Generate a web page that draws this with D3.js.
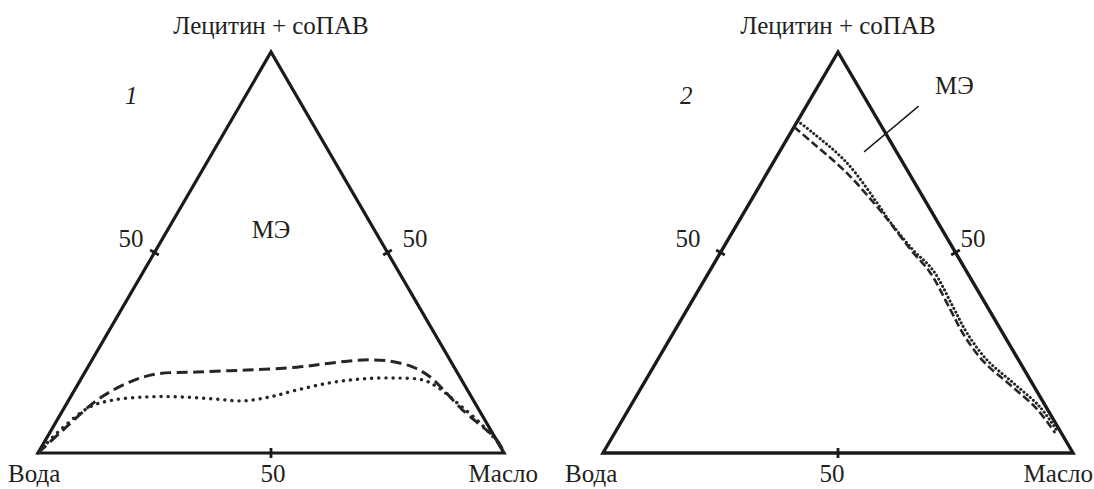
<!DOCTYPE html>
<html>
<head>
<meta charset="utf-8">
<script src="https://cdn.jsdelivr.net/npm/d3@7"></script>
<style>
  html, body { margin: 0; padding: 0; background: #fff; }
  .lbl { font-family: 'Liberation Serif', LiberationSerif, Tinos, 'Times New Roman', Times, 'Nimbus Roman', 'Nimbus Roman No9 L', FreeSerif, 'DejaVu Serif', serif; }
</style>
</head>
<body>
<svg id="chart" width="1094" height="489"></svg>
<script>
// compositions as [Лецитин + соПАВ %, Масло %]; вода = 100 - both
const vertexLabels = ['Вода', 'Масло', 'Лецитин + соПАВ'];
const tickLabel = '50';
const panelNames = ['1', '2'];

const dashed1 = [[0,0],[5.7,2.5],[13.2,6.1],[17.7,10.8],[19.7,15.6],[20.2,24.0],[20.7,34.5],
  [21.4,44.9],[22.4,51.5],[23.2,58.1],[22.9,64.1],[21.4,69.8],[19.0,74.6],[10.7,85.8],[3.2,96.9],[0,100]];
const dotted1 = [[0,0],[5.0,1.6],[11.5,5.4],[13.2,9.5],[14.0,16.4],[14.0,23.5],[13.5,30.8],[13.0,37.5],
  [14.0,42.8],[15.7,47.7],[17.5,53.9],[18.5,60.5],[18.7,67.7],[18.2,73.5],[16.5,77.4],[12.5,83.7],
  [7.5,91.1],[2.0,98.1],[0,100]];
const dotted2 = [[82.8,0],[79.8,4.8],[72.3,15.8],[61.3,28.3],[57.6,32.3],[50.6,40.7],[45.6,47.4],
  [36.4,56.3],[29.9,62.5],[23.2,70.1],[17.5,78.5],[11.5,87.2],[5.2,94.2]];
const dashed2 = [[81.3,0],[77.3,6.0],[69.8,17.0],[60.6,28.6],[57.4,32.4],[50.3,40.6],[45.1,47.0],
  [35.9,55.9],[29.4,62.1],[22.7,69.7],[17.0,78.1],[11.0,86.8],[5.0,93.7]];
const meLeader2 = [[86.5,23.9],[75.1,18.0]];

const panels = [
  { name: panelNames[0], left: 38, right: 504, top: 52, base: 453, width: 3.2,
    curves: [{ pts: dashed1, dash: '11,5.5', w: 3, cap: 'butt' }, { pts: dotted1, dash: '0.1,7', w: 3.4, cap: 'round' }],
    nameAt: [125, 104], me: { x: 271, y: 238, anchor: 'middle' }, leader: null,
    fifty: { lx: -11, rx: 15 }, bottomLab: { w: 8, mid: 2, m: 538 } },
  { name: panelNames[1], left: 603, right: 1073, top: 52, base: 453, width: 3.4,
    curves: [{ pts: dashed2, dash: '8,3.5', w: 2.6, cap: 'butt' }, { pts: dotted2, dash: '0.1,4', w: 3, cap: 'round' }],
    nameAt: [680, 104], me: { x: 935, y: 94, anchor: 'start' }, leader: meLeader2,
    fifty: { lx: -20, rx: 5 }, bottomLab: { w: 565, mid: -6, m: 1093 } }
];

const svg = d3.select('#chart');
const fs = 25;

panels.forEach(p => {
  const g = svg.append('g');
  // ternary -> x uses (oil + surf/2), y uses surf
  const x = d3.scaleLinear().domain([0, 100]).range([p.left, p.right]);
  const y = d3.scaleLinear().domain([0, 100]).range([p.base, p.top]);
  const pos = d => [x(d[1] + d[0] / 2), y(d[0])];

  const W = pos([0, 0]), O = pos([0, 100]), S = pos([100, 0]);

  g.append('path')
    .attr('d', d3.line()([W, O, S]) + 'Z')
    .attr('fill', 'none')
    .attr('stroke', '#1a1a1a')
    .attr('stroke-width', p.width)
    .attr('stroke-linejoin', 'miter');

  // 50% ticks at side midpoints
  const mids = [
    { pt: pos([0, 50]), dir: [0, 1] },
    { pt: pos([50, 0]), dir: [S[1] - W[1], -(S[0] - W[0])] },
    { pt: pos([50, 50]), dir: [O[1] - S[1], -(O[0] - S[0])] }
  ];
  mids.forEach(m => {
    const len = Math.hypot(m.dir[0], m.dir[1]);
    const ux = m.dir[0] / len, uy = m.dir[1] / len;
    g.append('line')
      .attr('x1', m.pt[0] - ux * 5).attr('y1', m.pt[1] - uy * 5)
      .attr('x2', m.pt[0] + ux * 5).attr('y2', m.pt[1] + uy * 5)
      .attr('stroke', '#1a1a1a').attr('stroke-width', 2.8);
  });

  const line = d3.line().curve(d3.curveCatmullRom.alpha(0.5)).x(d => pos(d)[0]).y(d => pos(d)[1]);
  p.curves.forEach(c => {
    g.append('path')
      .attr('d', line(c.pts))
      .attr('fill', 'none')
      .attr('stroke', '#262626')
      .attr('stroke-width', c.w)
      .attr('stroke-linecap', c.cap)
      .attr('stroke-dasharray', c.dash);
  });

  if (p.leader) {
    g.append('line')
      .attr('x1', pos(p.leader[0])[0]).attr('y1', pos(p.leader[0])[1])
      .attr('x2', pos(p.leader[1])[0]).attr('y2', pos(p.leader[1])[1])
      .attr('stroke', '#1a1a1a').attr('stroke-width', 1.4);
  }

  // texts
  const txt = (tx, ty, s, anchor) => g.append('text')
    .attr('class', 'lbl')
    .attr('x', tx).attr('y', ty)
    .attr('text-anchor', anchor || 'start')
    .attr('font-size', fs)
    .attr('fill', '#231f20')
    .text(s);

  txt(S[0], 34, vertexLabels[2], 'middle');
  txt(p.bottomLab.w, 482, vertexLabels[0]);
  txt(p.bottomLab.m, 482, vertexLabels[1], 'end');
  txt(mids[0].pt[0] + p.bottomLab.mid, 482, tickLabel, 'middle');
  txt(mids[1].pt[0] + p.fifty.lx, mids[1].pt[1] - 6, tickLabel, 'end');
  txt(mids[2].pt[0] + p.fifty.rx, mids[2].pt[1] - 6, tickLabel);
  txt(p.nameAt[0], p.nameAt[1], p.name).attr('font-style', 'italic');
  txt(p.me.x, p.me.y, 'МЭ', p.me.anchor);
});
</script>
</body>
</html>
